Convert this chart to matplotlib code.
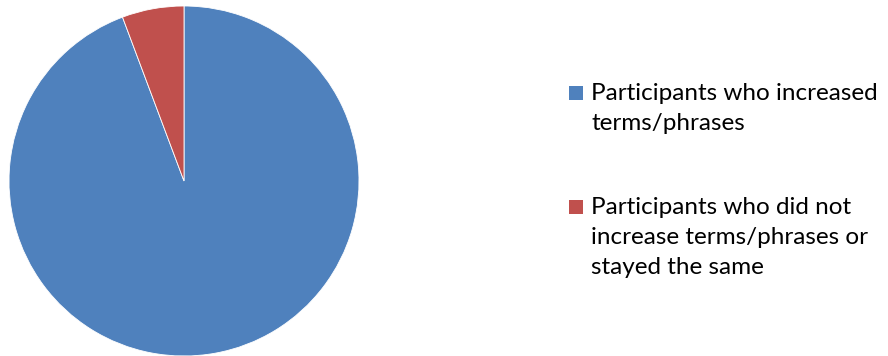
import matplotlib
matplotlib.use("Agg")
import matplotlib.pyplot as plt
from matplotlib.patches import Rectangle

# participant counts per group
labels = ["Participants who increased\nterms/phrases",
          "Participants who did not\nincrease terms/phrases or\nstayed the same"]
counts = [33, 2]
colors = ["#4F81BD", "#C0504D"]

W, H = 888, 356
fig = plt.figure(figsize=(W / 100, H / 100), dpi=100)

cx, cy, r = 184, 181, 175
ax = fig.add_axes([(cx - r) / W, (H - cy - r) / H, 2 * r / W, 2 * r / H])
ax.pie(counts, colors=colors, startangle=90, counterclock=False,
       wedgeprops=dict(edgecolor="white", linewidth=0.6))
ax.set_xlim(-1, 1)
ax.set_ylim(-1, 1)
ax.set_aspect("equal")

# legend drawn by hand: square aligned with the first line of each entry
entry_top = [93, 207]
line_step = 30.5
for lab, col, y0 in zip(labels, colors, entry_top):
    fig.patches.append(Rectangle(((569) / W, (H - y0 - 7) / H), 14 / W, 14 / H,
                                 transform=fig.transFigure, facecolor=col,
                                 edgecolor="none"))
    for i, line in enumerate(lab.split("\n")):
        fig.text(591 / W, (H - y0 - i * line_step) / H, line,
                 family="Lato", fontsize=17.5, va="center", ha="left",
                 color="black")

fig.savefig("out.png", dpi=100)
